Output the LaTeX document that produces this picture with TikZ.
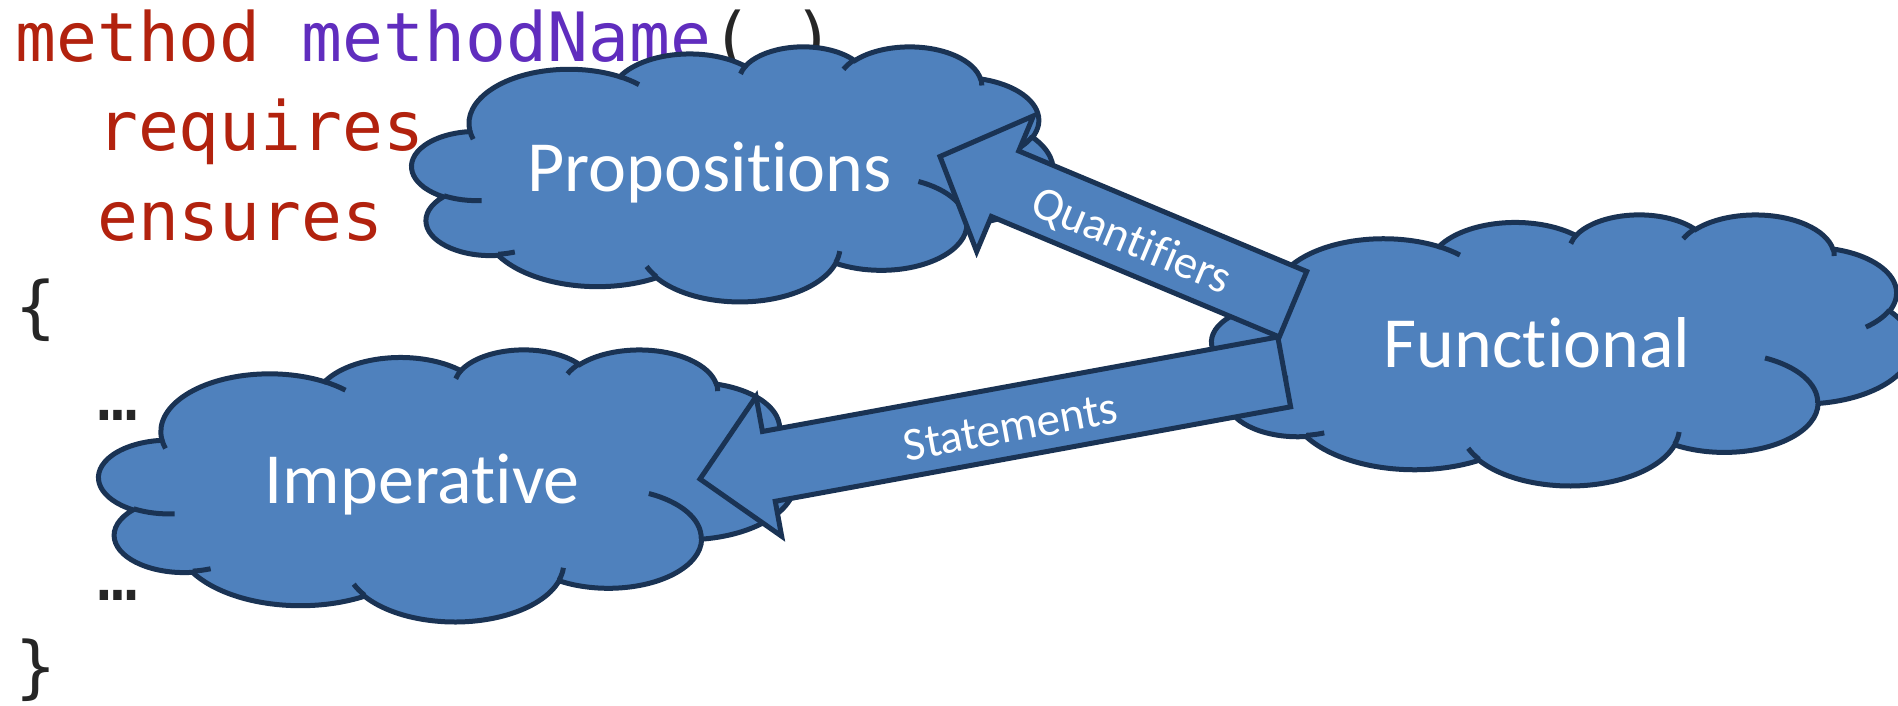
\documentclass[tikz,border=0pt]{standalone}
\usepackage{fontspec}
\setmainfont{Carlito}[Ligatures=CommonOff]
\setmonofont{DejaVu Sans Mono}
\usetikzlibrary{calc}
\definecolor{kwred}{HTML}{B2220E}
\definecolor{fnpurple}{HTML}{602DBE}
\definecolor{codedark}{HTML}{262626}
\definecolor{cloudfill}{HTML}{4F81BD}
\definecolor{cloudline}{HTML}{1A3354}

% PowerPoint-style cloud: #1 left, #2 top, #3 width, #4 height (pixels, y down)
\newcommand\ppcloud[4]{%
\begin{scope}[shift={(#1,#2)}, x=1pt, y=1pt, xscale=#3/432, yscale=-#4/432]
  \path[cloudshape] (39.00,143.70)
    arc[oa={67.53}{91.90}{-190.4875}{123.7805}]
    arc[oa={53.33}{72.67}{-144.1024}{89.9452}]
    arc[oa={43.65}{59.45}{-145.8079}{99.7230}]
    arc[oa={48.57}{65.95}{-130.9861}{117.2417}]
    arc[oa={53.33}{72.73}{-78.7089}{109.0269}]
    arc[oa={67.75}{92.20}{-46.2673}{130.2690}]
    arc[oa={57.85}{78.67}{0.6250}{114.0333}]
    arc[oa={67.52}{92.15}{22.4516}{115.1726}]
    arc[oa={77.20}{105.43}{66.2426}{75.7110}]
    arc[oa={43.60}{59.18}{-274.9421}{146.7356}]
    arc[oa={43.45}{59.45}{-246.8285}{152.5189}]
    -- cycle;
  \path[cloudinner]
    (46.93,261.77) arc[oa={43.45}{59.45}{86.7420}{26.4295}]
    (69.28,348.99) arc[oa={43.60}{59.18}{73.6105}{11.4475}]
    (164.78,390.90) arc[oa={67.52}{92.15}{137.6242}{14.0811}]
    (288.27,347.51) arc[oa={67.52}{92.15}{6.4533}{15.9984}]
    (341.29,229.54) arc[oa={57.85}{78.67}{-70.2924}{70.9174}]
    (417.98,153.54) arc[oa={53.33}{72.73}{30.3180}{27.7515}]
    (383.24,54.26) arc[oa={48.57}{65.95}{-13.7443}{14.8589}]
    (290.78,39.52) arc[oa={48.57}{65.95}{-149.1815}{18.1954}]
    (221.41,47.20) arc[oa={43.65}{59.45}{-163.4943}{17.6864}]
    (140.00,51.92) arc[oa={67.53}{91.90}{-66.7070}{12.3194}]
    (41.27,157.89) arc[oa={67.53}{91.90}{157.6544}{11.8582}];
\end{scope}}

\begin{document}
\begin{tikzpicture}[x=1pt, y=-1pt,
  declare function={
    ps(\xr,\yr,\ag)=atan2(\xr*sin(\ag),\yr*cos(\ag));
    pd(\xr,\yr,\ag,\sw)=mod(ps(\xr,\yr,\ag+\sw)-ps(\xr,\yr,\ag)+720,360);
  },
  oa/.style n args={4}{x radius=#1, y radius=#2, start angle={ps(#1,#2,#3)}, delta angle={pd(#1,#2,#3,#4)}},
  cloudshape/.style={fill=cloudfill, draw=cloudline, line width=5pt},
  cloudinner/.style={draw=cloudline, line width=5pt},
  blockarrow/.style={fill=cloudfill, draw=cloudline, line width=5pt, line join=miter},
  cloudlabel/.style={text=white, font=\fontsize{72}{80}\selectfont, inner sep=0pt, anchor=base},
  arrowlabel/.style={text=white, font=\fontsize{47}{52}\selectfont, inner sep=0pt, anchor=center},
  codeline/.style={font=\ttfamily\fontsize{68}{80}\selectfont, inner sep=0pt, anchor=base west}
]
\useasboundingbox (0,0) rectangle (1898,705);
\clip (0,0) rectangle (1898,705);

% code text
\node[codeline, text=kwred] (c1) at (15,61.5) {method \textcolor{fnpurple}{methodName}\textcolor{codedark}{( )}};
\node[codeline, text=kwred] (c2) at (96.9,150) {requires};
\node[codeline, text=kwred] (c3) at (96.9,240) {ensures};
\node[codeline, text=codedark] (c4) at (15,330) {\{};
\node[codeline, text=codedark] (c5) at (96.9,420) {…};
\node[codeline, text=codedark] (c6) at (96.9,600) {…};
\node[codeline, text=codedark] (c7) at (15,690) {\}};

% clouds
\ppcloud{99}{349}{696}{272}
\ppcloud{412}{46}{641}{255}
\ppcloud{1212}{214}{700}{271}

% block arrows
\coordinate (qt) at (1293,304.2);
\coordinate (qh) at (940,156.5);
\coordinate (qb) at ($(qh)!70.5pt!(qt)$);
\draw[blockarrow] ($(qt)!35.5pt!90:(qh)$) -- ($(qb)!35.5pt!90:(qh)$) -- ($(qb)!73.5pt!90:(qh)$)
  -- (qh) -- ($(qb)!73.5pt!-90:(qh)$) -- ($(qb)!35.5pt!-90:(qh)$) -- ($(qt)!35.5pt!-90:(qh)$) -- cycle;

\coordinate (st) at (1284.2,371.9);
\coordinate (sh) at (700,479);
\coordinate (sb) at ($(sh)!70pt!(st)$);
\draw[blockarrow] ($(st)!35.5pt!90:(sh)$) -- ($(sb)!35.5pt!90:(sh)$) -- ($(sb)!71pt!90:(sh)$)
  -- (sh) -- ($(sb)!71pt!-90:(sh)$) -- ($(sb)!35.5pt!-90:(sh)$) -- ($(st)!35.5pt!-90:(sh)$) -- cycle;

% arrow labels
\node[arrowlabel, rotate=-22.7] (ql) at ($(qt)!173.4pt!(qh)!5pt!90:(qh)$) {Quantifiers};
\node[arrowlabel, rotate=10.4] (sl) at ($(st)!279pt!(sh)!5pt!90:(sh)$) {Statements};

% cloud labels
\node[cloudlabel] (prop) at (709.7,191.7) {Propositions};
\node[cloudlabel] (imp) at (422.2,503.3) {Imperative};
\node[cloudlabel] (func) at (1537.1,367.3) {Functional};
\end{tikzpicture}
\end{document}
